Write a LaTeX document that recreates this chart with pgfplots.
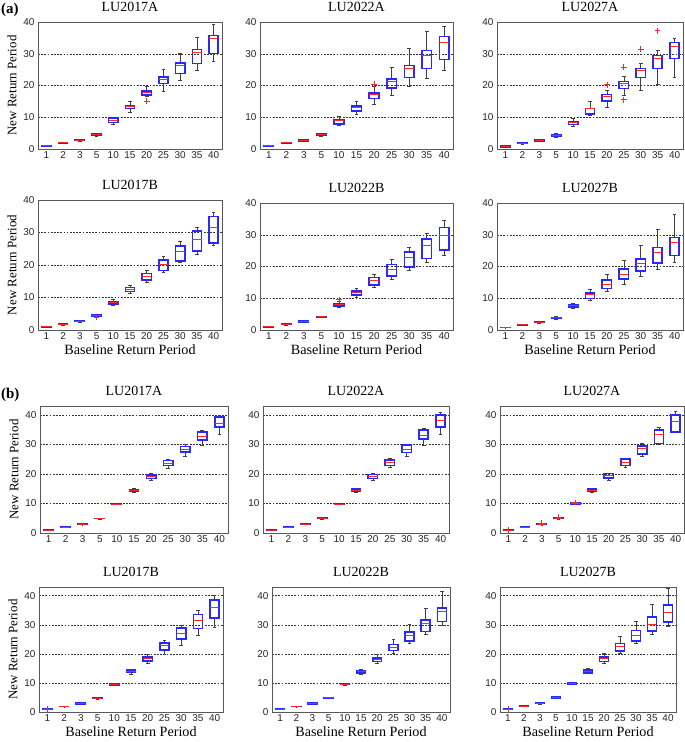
\documentclass[border=0pt]{standalone}
\usepackage{pgfplots}
\pgfplotsset{compat=1.18}
\usepgfplotslibrary{statistics}
\usepackage{fontspec}
\setmainfont{Liberation Serif}
\newfontfamily\arialfont{Liberation Sans}
\definecolor{boxblue}{RGB}{40,40,255}
\definecolor{medred}{RGB}{255,40,40}

\newcommand{\bx}[6]{%
  \pgfmathsetmacro\xl{#1-0.275}\pgfmathsetmacro\xr{#1+0.275}%
  \addplot[draw=black!75, boxplot prepared={draw position=#1, lower whisker=#2, lower quartile=#3, median=#4, upper quartile=#5, upper whisker=#6}] coordinates {};%
  \addplot[draw=boxblue, line width=1.6pt, mark=none, line cap=rect, line join=miter] coordinates {(\xl,#3) (\xr,#3) (\xr,#5) (\xl,#5) (\xl,#3)};%
  \addplot[draw=medred, line width=1.0pt, mark=none] coordinates {(\xl,#4) (\xr,#4)};%
}

\pgfplotsset{
  panel/.style={
    scale only axis, anchor=south west,
    xmin=0.5, xmax=11.5, ymin=0,
    xtick={1,...,11}, xticklabels={1,2,3,5,10,15,20,25,30,35,40},
    ytick={0,10,20,30,40},
    ymajorgrids, grid style={black!80, line width=0.5pt, dash pattern=on 1.8pt off 1.4pt},
    axis line style={black!65, line width=0.8pt},
    major tick length=0pt,
    /pgf/number format/assume math mode=true,
    tick label style={font=\arialfont\fontsize{10}{12}\selectfont, black!85},
    xticklabel style={yshift=1pt},
    title style={font=\fontsize{14}{16}\selectfont, yshift=1pt},
    ylabel style={font=\fontsize{13}{15}\selectfont},
    xlabel style={font=\fontsize{14.2}{16}\selectfont, yshift=2pt},
    boxplot/draw direction=y,
    boxplot/box extend=0.55,
    boxplot/whisker extend=0.22,
    boxplot/draw/box/.code={},
    boxplot/draw/median/.code={},
    boxplot/every whisker/.style={draw=black!75, line width=0.6pt},
  },
  outl/.style={only marks, mark=+, medred, mark size=2.8pt, line width=0.8pt},
}

\begin{document}
\begin{tikzpicture}
\useasboundingbox (0,0) rectangle (685bp,-742bp);
\node[anchor=north west, inner sep=0pt, font=\bfseries\fontsize{15}{17}\selectfont] at (1bp,-3bp) {(a)};
\node[anchor=north west, inner sep=0pt, font=\bfseries\fontsize{15}{17}\selectfont] at (1bp,-388bp) {(b)};

% ---------------- (a) row 1
\begin{axis}[panel, at={(38bp,-149bp)}, width=184bp, height=127bp, ymax=40, title={LU2017A}, ylabel={New Return Period}]
\bx{1}{0.85}{0.95}{1.0}{1.05}{1.1}
\bx{2}{1.7}{1.8}{1.9}{2.0}{2.1}
\bx{3}{2.5}{2.65}{2.75}{2.85}{3.0}
\bx{4}{4.1}{4.3}{4.5}{4.7}{5.0}
\bx{5}{7.9}{8.3}{9.0}{9.7}{10.1}
\bx{6}{11.6}{12.7}{13.3}{13.7}{14.9}
\bx{7}{16.5}{17.0}{17.7}{18.3}{19.8}
\bx{8}{18.3}{20.6}{22.0}{22.7}{25.0}
\bx{9}{21.7}{23.8}{26.2}{27.1}{30.0}
\bx{10}{24.8}{26.9}{30.4}{31.3}{35.3}
\bx{11}{27.6}{30.1}{34.8}{35.7}{39.3}
\addplot[outl] coordinates {(7,15.1)};
\end{axis}

\begin{axis}[panel, at={(260bp,-149bp)}, width=193bp, height=127bp, ymax=40, title={LU2022A}]
\bx{1}{0.7}{0.9}{1.0}{1.05}{1.2}
\bx{2}{1.7}{1.8}{1.9}{2.0}{2.1}
\bx{3}{2.4}{2.6}{2.8}{2.9}{3.1}
\bx{4}{4.0}{4.3}{4.5}{4.7}{5.0}
\bx{5}{7.6}{7.9}{8.9}{9.1}{10.2}
\bx{6}{10.9}{11.9}{13.1}{13.5}{15.1}
\bx{7}{14.1}{15.9}{17.1}{17.7}{19.7}
\bx{8}{16.9}{19.3}{21.4}{22.0}{25.7}
\bx{9}{19.6}{22.5}{25.4}{26.3}{31.6}
\bx{10}{22.2}{25.4}{29.4}{31.0}{37.1}
\bx{11}{24.8}{28.2}{33.5}{35.4}{38.8}
\addplot[outl] coordinates {(7,20.5)};
\end{axis}

\begin{axis}[panel, at={(497bp,-149bp)}, width=186bp, height=127bp, ymax=40, title={LU2027A}]
\bx{1}{0.6}{0.7}{0.85}{0.95}{1.1}
\bx{2}{1.6}{1.7}{1.8}{1.9}{2.0}
\bx{3}{2.3}{2.5}{2.6}{2.8}{3.0}
\bx{4}{3.8}{4.0}{4.2}{4.5}{4.8}
\bx{5}{7.2}{7.7}{8.4}{8.6}{9.6}
\bx{6}{10.5}{11.1}{12.6}{12.7}{14.9}
\bx{7}{13.1}{15.2}{16.5}{17.2}{18.6}
\bx{8}{17.0}{19.0}{20.5}{21.3}{22.8}
\bx{9}{18.4}{22.5}{24.7}{25.3}{27.0}
\bx{10}{20.5}{25.4}{28.5}{29.5}{31.0}
\bx{11}{22.6}{28.5}{32.2}{33.6}{34.8}
\addplot[outl] coordinates {(7,20.2) (8,25.8) (8,15.5) (9,31.5) (10,37.2)};
\end{axis}

% ---------------- (a) row 2
\begin{axis}[panel, at={(38bp,-330bp)}, width=184bp, height=130bp, ymax=40, title={LU2017B}, ylabel={New Return Period}, xlabel={Baseline Return Period}]
\bx{1}{0.85}{0.95}{1.0}{1.05}{1.1}
\bx{2}{1.6}{1.7}{1.8}{1.9}{2.0}
\bx{3}{2.5}{2.6}{2.7}{2.8}{2.9}
\bx{4}{3.9}{4.2}{4.4}{4.6}{4.9}
\bx{5}{7.7}{8.0}{8.4}{8.8}{9.3}
\bx{6}{11.4}{11.9}{12.6}{13.1}{13.9}
\bx{7}{14.6}{15.4}{16.4}{17.4}{18.3}
\bx{8}{17.8}{18.3}{20.1}{21.6}{22.8}
\bx{9}{20.8}{21.3}{24.1}{25.8}{27.3}
\bx{10}{23.4}{24.4}{27.8}{30.4}{31.5}
\bx{11}{26.1}{26.8}{31.4}{34.9}{36.2}
\addplot[outl] coordinates {(4,3.8)};
\end{axis}

\begin{axis}[panel, at={(260bp,-330bp)}, width=193bp, height=127bp, ymax=40, title={LU2022B}, xlabel={Baseline Return Period}]
\bx{1}{0.8}{0.9}{1.0}{1.1}{1.2}
\bx{2}{1.6}{1.7}{1.8}{1.9}{2.0}
\bx{3}{2.4}{2.5}{2.6}{2.8}{2.9}
\bx{4}{4.0}{4.1}{4.2}{4.3}{4.4}
\bx{5}{7.2}{7.6}{7.9}{8.3}{9.0}
\bx{6}{10.4}{11.1}{11.7}{12.3}{13.2}
\bx{7}{13.3}{14.2}{15.6}{16.6}{17.7}
\bx{8}{16.1}{17.1}{19.0}{20.6}{22.2}
\bx{9}{18.8}{19.9}{22.8}{24.6}{26.2}
\bx{10}{21.2}{22.5}{26.5}{28.6}{30.4}
\bx{11}{23.5}{25.2}{29.8}{32.3}{34.6}
\addplot[outl] coordinates {(5,9.5)};
\end{axis}

\begin{axis}[panel, at={(497bp,-330bp)}, width=186bp, height=127bp, ymax=40, title={LU2027B}, xlabel={Baseline Return Period}]
\bx{1}{0.7}{0.75}{0.8}{0.85}{1.0}
\bx{2}{1.5}{1.55}{1.6}{1.7}{1.8}
\bx{3}{2.2}{2.3}{2.4}{2.5}{2.7}
\bx{4}{3.4}{3.7}{3.8}{4.0}{4.3}
\bx{5}{6.7}{7.2}{7.6}{7.9}{8.4}
\bx{6}{9.5}{9.9}{11.1}{11.6}{12.8}
\bx{7}{12.3}{13.1}{14.2}{15.8}{17.4}
\bx{8}{14.5}{16.1}{17.6}{19.2}{21.9}
\bx{9}{16.8}{18.6}{21.1}{22.4}{26.6}
\bx{10}{19.2}{21.1}{24.4}{26.0}{31.6}
\bx{11}{21.3}{23.5}{27.6}{29.1}{36.6}
\end{axis}

% ---------------- (b) row 1
\begin{axis}[panel, at={(40bp,-533bp)}, width=188bp, height=127bp, ymax=43, title={LU2017A}, ylabel={New Return Period}]
\bx{1}{0.9}{0.95}{1.0}{1.05}{1.1}
\bx{2}{1.9}{1.95}{2.0}{2.05}{2.1}
\bx{3}{2.8}{2.85}{3.0}{3.15}{3.2}
\bx{4}{4.8}{4.85}{4.9}{4.95}{5.0}
\bx{5}{9.6}{9.7}{9.8}{9.9}{10.0}
\bx{6}{13.7}{14.0}{14.3}{14.6}{15.0}
\bx{7}{17.9}{18.5}{19.2}{19.7}{20.1}
\bx{8}{21.9}{22.9}{23.7}{24.6}{24.8}
\bx{9}{25.9}{27.4}{28.4}{29.3}{29.9}
\bx{10}{29.7}{31.4}{32.7}{34.3}{34.9}
\bx{11}{33.5}{35.8}{37.2}{39.2}{39.8}
\end{axis}

\begin{axis}[panel, at={(263bp,-533bp)}, width=186bp, height=127bp, ymax=43, title={LU2022A}]
\bx{1}{0.9}{0.95}{1.0}{1.05}{1.1}
\bx{2}{1.9}{1.95}{2.0}{2.05}{2.1}
\bx{3}{2.8}{2.9}{3.0}{3.1}{3.2}
\bx{4}{4.8}{4.85}{4.9}{5.0}{5.1}
\bx{5}{9.6}{9.7}{9.8}{9.9}{10.0}
\bx{6}{13.7}{14.0}{14.4}{14.9}{15.2}
\bx{7}{18.0}{18.5}{19.2}{19.8}{20.2}
\bx{8}{22.1}{22.9}{23.9}{24.8}{25.2}
\bx{9}{25.9}{27.3}{28.4}{29.7}{30.0}
\bx{10}{29.7}{31.8}{33.1}{34.8}{35.5}
\bx{11}{33.5}{35.8}{38.0}{40.0}{40.8}
\end{axis}

\begin{axis}[panel, at={(500bp,-533bp)}, width=184bp, height=127bp, ymax=43, title={LU2027A}]
\bx{1}{0.9}{0.95}{1.0}{1.05}{1.1}
\bx{2}{1.9}{1.95}{2.0}{2.05}{2.1}
\bx{3}{2.8}{2.85}{3.0}{3.1}{3.2}
\bx{4}{4.8}{4.9}{5.0}{5.1}{5.2}
\bx{5}{9.8}{9.9}{10.0}{10.1}{10.2}
\bx{6}{13.7}{14.2}{14.5}{14.9}{15.1}
\bx{7}{18.0}{18.6}{19.4}{20.1}{20.3}
\bx{8}{22.3}{22.8}{23.9}{25.0}{25.4}
\bx{9}{26.1}{26.7}{28.6}{29.5}{30.4}
\bx{10}{30.2}{30.3}{33.2}{34.8}{35.8}
\bx{11}{34.0}{34.1}{37.7}{40.0}{41.1}
\addplot[outl] coordinates {(1,1.0) (3,3.3) (4,5.4) (5,10.3)};
\end{axis}

% ---------------- (b) row 2
\begin{axis}[panel, at={(39bp,-712bp)}, width=184bp, height=125bp, ymax=43, title={LU2017B}, ylabel={New Return Period}, xlabel={Baseline Return Period}]
\bx{1}{0.9}{0.95}{1.0}{1.05}{1.1}
\bx{2}{1.8}{1.85}{1.9}{1.95}{2.1}
\bx{3}{2.8}{2.85}{2.9}{3.0}{3.1}
\bx{4}{4.5}{4.6}{4.8}{4.9}{5.0}
\bx{5}{9.2}{9.3}{9.5}{9.6}{9.7}
\bx{6}{13.1}{13.6}{14.0}{14.4}{14.8}
\bx{7}{16.7}{17.5}{18.3}{19.0}{19.7}
\bx{8}{20.0}{21.4}{22.8}{23.7}{24.5}
\bx{9}{23.1}{25.1}{27.1}{28.8}{29.8}
\bx{10}{26.4}{28.7}{31.5}{33.6}{35.0}
\bx{11}{29.0}{32.3}{35.9}{38.6}{40.1}
\addplot[outl] coordinates {(1,1.0)};
\end{axis}

\begin{axis}[panel, at={(272bp,-712bp)}, width=178bp, height=125bp, ymax=43, title={LU2022B}, xlabel={Baseline Return Period}]
\bx{1}{0.9}{0.95}{1.0}{1.05}{1.1}
\bx{2}{1.8}{1.85}{1.9}{1.95}{2.1}
\bx{3}{2.8}{2.85}{2.9}{3.0}{3.1}
\bx{4}{4.7}{4.8}{4.9}{5.0}{5.1}
\bx{5}{9.3}{9.4}{9.5}{9.6}{9.7}
\bx{6}{13.0}{13.4}{13.8}{14.1}{14.7}
\bx{7}{16.9}{17.4}{18.1}{18.6}{19.8}
\bx{8}{20.3}{21.1}{22.3}{23.2}{25.1}
\bx{9}{23.7}{24.4}{26.4}{27.6}{30.2}
\bx{10}{26.8}{27.7}{30.5}{31.6}{35.8}
\bx{11}{29.8}{31.1}{34.7}{35.8}{41.5}
\end{axis}

\begin{axis}[panel, at={(500bp,-712bp)}, width=176bp, height=125bp, ymax=43, title={LU2027B}, xlabel={Baseline Return Period}]
\bx{1}{0.9}{0.95}{1.0}{1.05}{1.1}
\bx{2}{1.9}{1.95}{2.0}{2.05}{2.2}
\bx{3}{2.8}{2.9}{3.0}{3.1}{3.2}
\bx{4}{4.8}{4.9}{5.0}{5.2}{5.3}
\bx{5}{9.6}{9.7}{9.8}{9.9}{10.0}
\bx{6}{13.2}{13.4}{14.0}{14.4}{14.9}
\bx{7}{16.9}{17.4}{18.3}{18.9}{20.2}
\bx{8}{20.3}{21.0}{22.6}{23.6}{25.9}
\bx{9}{23.7}{24.4}{26.2}{28.1}{31.3}
\bx{10}{26.6}{27.9}{30.2}{32.7}{36.9}
\bx{11}{29.6}{31.0}{34.1}{36.9}{42.6}
\addplot[outl] coordinates {(1,1.0)};
\end{axis}
\end{tikzpicture}
\end{document}
